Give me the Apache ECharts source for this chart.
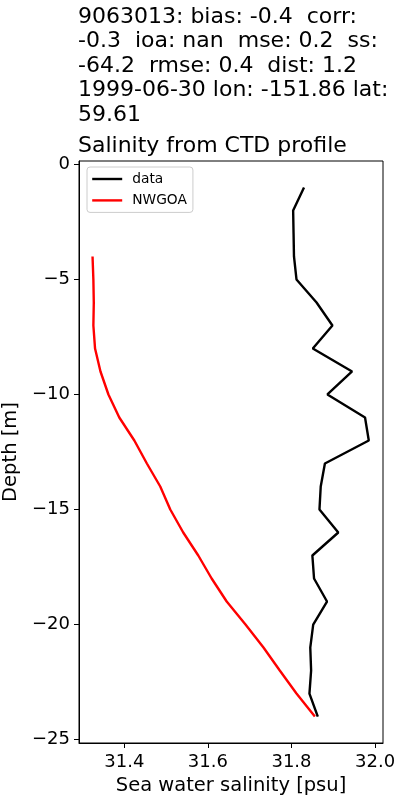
<!DOCTYPE html>
<html>
<head>
<meta charset="utf-8">
<script src="https://cdn.jsdelivr.net/npm/echarts@6/dist/echarts.min.js"></script>
<style>
html,body{margin:0;padding:0;background:#fff;}
#chart{width:400px;height:800px;}
</style>
</head>
<body>
<div id="chart"></div>
<script>
// ---- data ----
const titleLines = [
  "9063013: bias: -0.4  corr:",
  "-0.3  ioa: nan  mse: 0.2  ss:",
  "-64.2  rmse: 0.4  dist: 1.2",
  "1999-06-30 lon: -151.86 lat:",
  "59.61"
];
const subTitle = "Salinity from CTD profile";
const xAxisName = "Sea water salinity [psu]";
const yAxisName = "Depth [m]";

const dataDepth = [-1,-2,-3,-4,-5,-6,-7,-8,-9,-10,-11,-12,-13,-14,-15,-16,-17,-18,-19,-20,-21,-22,-23,-24];
const dataSalinity = [31.830,31.804,31.805,31.806,31.812,31.860,31.898,31.851,31.945,31.886,31.976,31.985,31.880,31.870,31.867,31.912,31.850,31.854,31.885,31.852,31.845,31.847,31.843,31.863];

const modelDepth = [-4,-5,-6,-7,-8,-9,-10,-11,-12,-13,-14,-15,-16,-17,-18,-19,-20,-21,-22,-23,-24];
const modelSalinity = [31.324,31.326,31.327,31.326,31.330,31.343,31.362,31.388,31.424,31.454,31.486,31.510,31.541,31.577,31.609,31.645,31.690,31.733,31.772,31.812,31.856];

const xTicks = [31.4, 31.6, 31.8, 32.0];
const yTicks = [0, -5, -10, -15, -20, -25];

const seriesNames = ["data", "NWGOA"];
// --------------------------------------

const fmtMinus = s => String(s).replace('-', '\u2212');
const font = 'DejaVu Sans';

const chart = echarts.init(document.getElementById('chart'), null, {renderer:'canvas'});
chart.setOption({
  animation: false,
  backgroundColor: '#fff',
  textStyle: {fontFamily: font},
  title: [
    {
      text: titleLines.join('\n'),
      left: 78, top: 5, padding: 0,
      textStyle: {fontFamily: font, fontSize: 22, fontWeight: 'normal', color: '#000', lineHeight: 24.4}
    },
    {
      text: subTitle,
      left: 78, top: 134, padding: 0,
      textStyle: {fontFamily: font, fontSize: 22, fontWeight: 'normal', color: '#000', lineHeight: 24.4}
    }
  ],
  legend: {
    orient: 'vertical',
    left: 87, top: 167,
    padding: [5, 6, 5, 4],
    itemGap: 7.4,
    itemWidth: 30, itemHeight: 14,
    backgroundColor: 'rgba(255,255,255,0.8)',
    borderColor: '#cccccc', borderWidth: 1, borderRadius: 3,
    itemStyle: {opacity: 0},
    lineStyle: {width: 2.4},
    textStyle: {fontFamily: font, fontSize: 13.8, color: '#000', padding: [0,0,0,5]},
    data: seriesNames
  },
  grid: {left: 79, right: 17, top: 161, bottom: 57, show: true, borderColor: '#000', borderWidth: 1,
    containLabel: false, outerBoundsMode: 'none'},
  xAxis: {
    type: 'value',
    min: 31.2916, max: 32.019,
    name: xAxisName, nameLocation: 'middle', nameGap: 31,
    nameTextStyle: {fontFamily: font, fontSize: 19.5, color: '#000'},
    axisLine: {show: true, onZero: false, lineStyle: {color: '#000', width: 1}},
    axisTick: {show: true, length: 5, lineStyle: {color: '#000'}, customValues: xTicks},
    axisLabel: {fontFamily: font, fontSize: 18, color: '#000', margin: 10, customValues: xTicks,
      formatter: v => fmtMinus(Number(v).toFixed(1))},
    splitLine: {show: false}
  },
  yAxis: {
    type: 'value',
    min: -25.15, max: 0.15,
    name: yAxisName, nameLocation: 'middle', nameGap: 53, nameRotate: 90,
    nameTextStyle: {fontFamily: font, fontSize: 19.5, color: '#000'},
    axisLine: {show: true, onZero: false, lineStyle: {color: '#000', width: 1}},
    axisTick: {show: true, length: 5, lineStyle: {color: '#000'}, customValues: yTicks},
    axisLabel: {fontFamily: font, fontSize: 18, color: '#000', margin: 9, customValues: yTicks,
      formatter: v => fmtMinus(Math.round(v))},
    splitLine: {show: false}
  },
  series: [
    {
      name: seriesNames[0], type: 'line', symbol: 'none', showSymbol: false,
      lineStyle: {color: '#000000', width: 2.4}, itemStyle: {color: '#000000'},
      data: dataDepth.map((d, i) => [dataSalinity[i], d])
    },
    {
      name: seriesNames[1], type: 'line', symbol: 'none', showSymbol: false,
      lineStyle: {color: '#ff0000', width: 2.4}, itemStyle: {color: '#ff0000'},
      data: modelDepth.map((d, i) => [modelSalinity[i], d])
    }
  ]
});
</script>
</body>
</html>
